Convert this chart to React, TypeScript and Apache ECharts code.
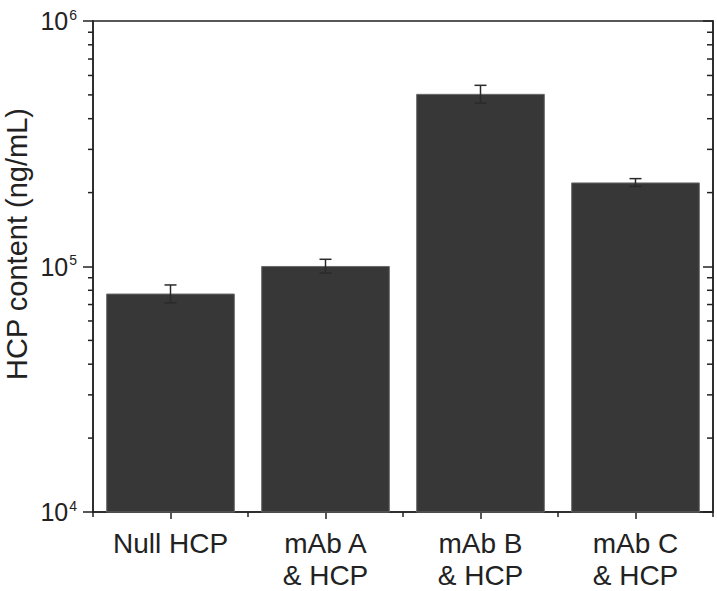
import React, { useEffect, useRef } from "react";
import * as echarts from "echarts";

const categories = ["Null HCP", "mAb A\n& HCP", "mAb B\n& HCP", "mAb C\n& HCP"];
const hcpValues = [77600, 100500, 505000, 220000];
const hcpErrors = [6500, 6500, 42000, 8000];
const yTickExponents = [4, 5, 6];

const FONT = "'Liberation Sans', Arial, sans-serif";

export default function App() {
  const ref = useRef<HTMLDivElement>(null);
  useEffect(() => {
    if (!ref.current) return;
    const chart = echarts.init(ref.current, undefined, { renderer: "svg" });
    const minorVals: number[][] = [];
    for (let e = yTickExponents[0]; e < yTickExponents[yTickExponents.length - 1]; e++) {
      for (let m = 2; m <= 9; m++) minorVals.push([0, m * Math.pow(10, e)]);
    }
    const errData = hcpValues.map((v, i) => [i, v - hcpErrors[i], v + hcpErrors[i]]);
    const axisColor = "#222";
    chart.setOption({
      animation: false,
      grid: {
        left: 93,
        right: 4,
        top: 21,
        bottom: 79,
        show: true,
        borderColor: axisColor,
        borderWidth: 1.5,
        backgroundColor: "transparent",
      },
      graphic: [
        {
          type: "text",
          x: 17,
          y: 244,
          rotation: Math.PI / 2,
          style: {
            text: "HCP content (ng/mL)",
            font: `29px ${FONT}`,
            fill: "#222",
            textAlign: "center",
            textVerticalAlign: "middle",
          },
        },
      ],
      xAxis: [
        {
          type: "category",
          data: categories,
          position: "bottom",
          axisLine: { show: true, lineStyle: { color: axisColor, width: 1.5 } },
          axisTick: { show: true, alignWithLabel: true, length: 7, lineStyle: { color: axisColor, width: 1.5 } },
          axisLabel: {
            margin: 15,
            fontSize: 28,
            lineHeight: 32,
            color: "#222",
            fontFamily: FONT,
            interval: 0,
          },
        },
        {
          type: "category",
          data: categories,
          position: "bottom",
          axisLine: { show: false },
          axisTick: { show: true, length: 5, lineStyle: { color: axisColor, width: 1.5 } },
          axisLabel: { show: false },
        },
      ],
      yAxis: [
        {
          type: "log",
          logBase: 10,
          min: 1e4,
          max: 1e6,
          position: "left",
          splitLine: { show: false },
          axisLine: { show: true, lineStyle: { color: axisColor, width: 1.5 } },
          axisTick: { show: true, length: 10, lineStyle: { color: axisColor, width: 1.5 } },
          axisLabel: {
            margin: 16,
            color: "#222",
            fontFamily: FONT,
            formatter: (v: number) => `{b|10}{s|${Math.round(Math.log10(v))}}`,
            rich: {
              b: { fontSize: 25, fontFamily: FONT, color: "#222" },
              s: { fontSize: 14, fontFamily: FONT, color: "#222", padding: [0, 0, 13, 1] },
            },
          },
        },
        {
          type: "log",
          logBase: 10,
          min: 1e4,
          max: 1e6,
          position: "right",
          splitLine: { show: false },
          axisLine: { show: true, lineStyle: { color: axisColor, width: 1.5 } },
          axisTick: { show: true, inside: true, length: 10, lineStyle: { color: axisColor, width: 1.5 } },
          axisLabel: { show: false },
        },
      ],
      series: [
        {
          type: "bar",
          data: hcpValues,
          barWidth: "83%",
          itemStyle: { color: "#373737", borderColor: "#6a6a6a", borderWidth: 1 },
        },
        {
          type: "custom",
          data: errData,
          encode: { x: 0, y: [1, 2] },
          z: 5,
          renderItem: (params: any, api: any) => {
            const i = api.value(0);
            const lo = api.coord([i, api.value(1)]);
            const hi = api.coord([i, api.value(2)]);
            const half = 6;
            const style = { stroke: "#2a2a2a", lineWidth: 1.5 };
            return {
              type: "group",
              children: [
                { type: "line", shape: { x1: hi[0], y1: hi[1], x2: lo[0], y2: lo[1] }, style },
                { type: "line", shape: { x1: hi[0] - half, y1: hi[1], x2: hi[0] + half, y2: hi[1] }, style },
                { type: "line", shape: { x1: lo[0] - half, y1: lo[1], x2: lo[0] + half, y2: lo[1] }, style },
              ],
            };
          },
        },
        {
          type: "custom",
          data: minorVals,
          encode: { x: 0, y: 1 },
          clip: false,
          silent: true,
          renderItem: (params: any, api: any) => {
            const y = api.coord([0, api.value(1)])[1];
            const cs = params.coordSys;
            const style = { stroke: axisColor, lineWidth: 1.5 };
            return {
              type: "group",
              children: [
                { type: "line", shape: { x1: cs.x - 5, y1: y, x2: cs.x, y2: y }, style },
                { type: "line", shape: { x1: cs.x + cs.width - 6, y1: y, x2: cs.x + cs.width, y2: y }, style },
              ],
            };
          },
        },
      ],
    });
    return () => chart.dispose();
  }, []);
  return <div ref={ref} style={{ width: 717, height: 591, position: "absolute", left: 0, top: 0 }} />;
}
